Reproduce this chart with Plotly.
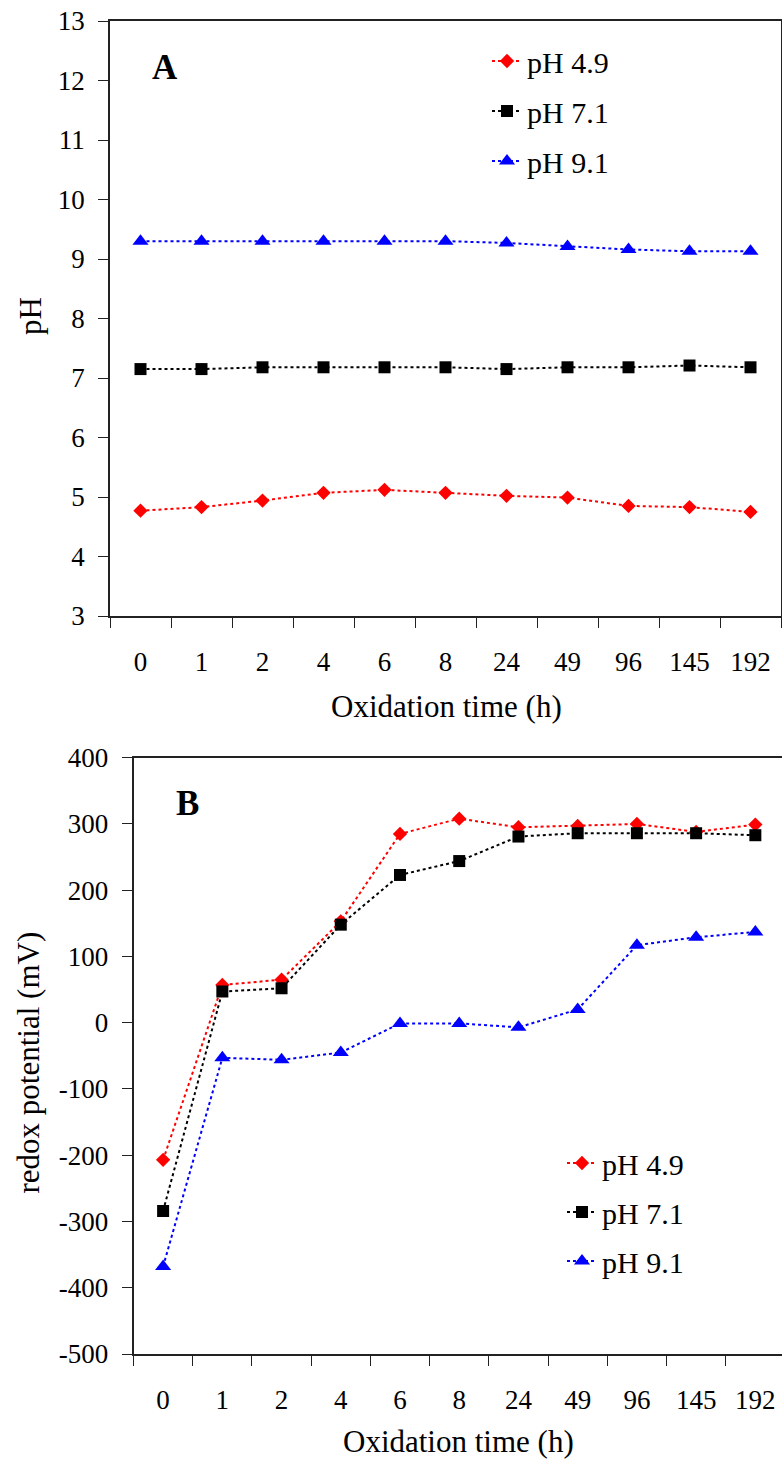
import plotly.graph_objects as go

# Sampling times (h), shown as evenly spaced categories
times = ["0", "1", "2", "4", "6", "8", "24", "49", "96", "145", "192"]

# Panel A: pH during oxidation
ph_49 = [4.77, 4.83, 4.94, 5.07, 5.12, 5.07, 5.02, 4.99, 4.85, 4.83, 4.75]
ph_71 = [7.15, 7.15, 7.18, 7.18, 7.18, 7.18, 7.15, 7.18, 7.18, 7.21, 7.18]
ph_91 = [9.30, 9.30, 9.30, 9.30, 9.30, 9.30, 9.27, 9.21, 9.16, 9.13, 9.13]

# Panel B: redox potential (mV)
eh_49 = [-207, 57, 65, 153, 285, 308, 295, 297, 300, 288, 299]
eh_71 = [-284, 47, 52, 148, 223, 244, 281, 286, 286, 286, 283]
eh_91 = [-368, -53, -56, -45, -1, -1, -7, 20, 117, 129, 137]

# Axis ticks (plain hyphen as minus sign)
ph_ticks = list(range(3, 14))
eh_ticks = list(range(-500, 401, 100))
eh_tick_text = [str(v) for v in eh_ticks]

series_names = ["pH 4.9", "pH 7.1", "pH 9.1"]
colors = ["#ff0000", "#000000", "#0000ff"]
symbols = ["diamond", "square", "triangle-up"]
sizes = [11, 12, 14]

W, H = 782, 1460
FONT = "Liberation Serif"

fig = go.Figure()

for vals, name, col, sym, sz in zip([ph_49, ph_71, ph_91], series_names, colors, symbols, sizes):
    fig.add_trace(go.Scatter(
        x=times, y=vals, name=name, mode="lines+markers",
        line=dict(color=col, width=2, dash="dot"),
        marker=dict(color=col, symbol=sym, size=sz, line=dict(width=0)),
        xaxis="x", yaxis="y", legend="legend", legendgroup="a" + name,
    ))

for vals, name, col, sym, sz in zip([eh_49, eh_71, eh_91], series_names, colors, symbols, sizes):
    fig.add_trace(go.Scatter(
        x=times, y=vals, name=name, mode="lines+markers",
        line=dict(color=col, width=2, dash="dot"),
        marker=dict(color=col, symbol=sym, size=sz, line=dict(width=0)),
        xaxis="x2", yaxis="y2", legend="legend2", legendgroup="b" + name,
    ))

axis_line = "#222222"
tick_font = dict(family=FONT, size=27, color="black")

xcommon = dict(
    type="category", categoryorder="array", categoryarray=times,
    showgrid=False, zeroline=False, showline=True, linecolor=axis_line,
    linewidth=1.5, mirror=True, ticks="outside", ticklen=10, tickwidth=1,
    tickcolor=axis_line, tickson="boundaries", tickfont=tick_font,
    ticklabelstandoff=21, automargin=False,
)
ycommon = dict(
    showgrid=False, zeroline=False, showline=True, linecolor=axis_line,
    linewidth=1.5, mirror=True, ticks="outside", ticklen=10, tickwidth=1,
    tickcolor=axis_line, tickfont=tick_font, ticklabelstandoff=8,
    automargin=False, tickmode="array",
)

legend_font = dict(family=FONT, size=30, color="black")

fig.update_layout(
    width=W, height=H,
    margin=dict(l=0, r=0, t=0, b=0, autoexpand=False),
    paper_bgcolor="white", plot_bgcolor="white",
    font=dict(family=FONT, color="black"),
    xaxis=dict(xcommon, domain=[110 / W, 781 / W], range=[-0.5, 10.5], anchor="y"),
    yaxis=dict(ycommon, domain=[(H - 616) / H, (H - 21) / H], range=[3, 13],
               tickvals=ph_ticks, ticktext=[str(v) for v in ph_ticks], anchor="x"),
    xaxis2=dict(xcommon, domain=[133.5 / W, 1.0], range=[-0.5, 10.45], anchor="y2"),
    yaxis2=dict(ycommon, domain=[(H - 1354) / H, (H - 757.7) / H],
                range=[-500, 400], tickvals=eh_ticks, ticktext=eh_tick_text,
                anchor="x2"),
    legend=dict(x=487 / W, xanchor="left", y=1 - 35 / H, yanchor="top",
                bgcolor="rgba(0,0,0,0)", font=legend_font, tracegroupgap=8),
    legend2=dict(x=562 / W, xanchor="left", y=1 - 1137 / H, yanchor="top",
                 bgcolor="rgba(0,0,0,0)", font=legend_font, tracegroupgap=7),
    showlegend=True,
)

title_font = dict(family=FONT, size=31, color="black")
letter_font = dict(family=FONT, size=35, color="black")


def label(text, x, y, font, angle=0):
    fig.add_annotation(text=text, x=x / W, y=1 - y / H, xref="paper", yref="paper",
                       xanchor="center", yanchor="middle", showarrow=False,
                       textangle=angle, font=font, borderpad=0)


label("Oxidation time (h)", 446, 706, title_font)
label("Oxidation time (h)", 458, 1441, title_font)
label("pH", 30, 316, title_font, -90)
label("redox potential (mV)", 27.5, 1063, title_font, -90)
label("<b>A</b>", 164.5, 67, letter_font)
label("<b>B</b>", 187, 804, letter_font)

fig.write_html("out.html")
